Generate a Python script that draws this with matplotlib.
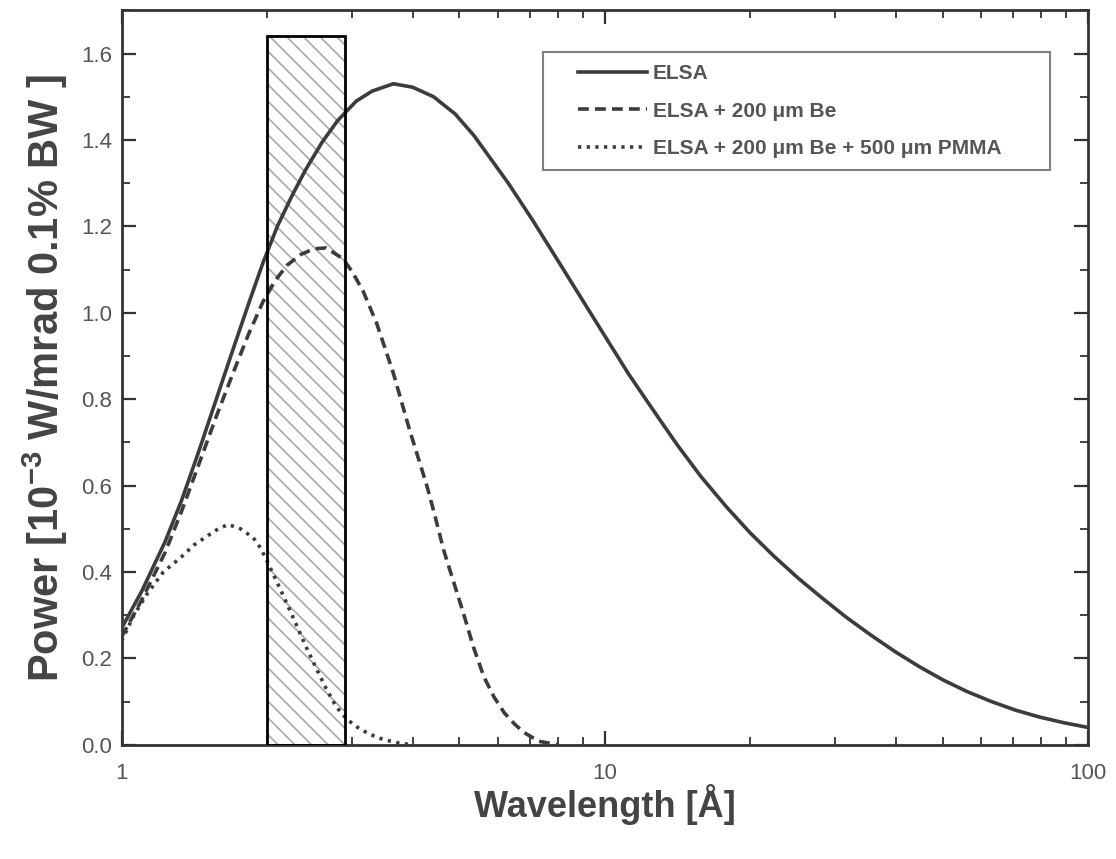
import matplotlib
matplotlib.use("Agg")
import matplotlib.pyplot as plt
from matplotlib.patches import Rectangle
from matplotlib.ticker import MultipleLocator, LogLocator, NullFormatter, FixedLocator, FixedFormatter

plt.rcParams["font.family"] = ["Liberation Sans", "DejaVu Sans"]
plt.rcParams["mathtext.fontset"] = "custom"
plt.rcParams["mathtext.rm"] = "Liberation Sans:bold"
plt.rcParams["mathtext.bf"] = "Liberation Sans:bold"
plt.rcParams["hatch.linewidth"] = 1.2

# ELSA spectrum
elsa_x = [1.0, 1.1, 1.23, 1.33, 1.44, 1.57, 1.7, 1.83, 1.96, 2.1, 2.25, 2.4, 2.6, 2.8,
          3.06, 3.3, 3.65, 4.0, 4.42, 4.9, 5.36, 6.31, 7.08, 7.94, 8.91, 10.0, 11.2,
          12.6, 14.1, 15.8, 17.8, 20.0, 22.4, 25.1, 28.2, 31.6, 35.5, 39.8, 44.7, 50.1,
          56.2, 63.1, 70.8, 79.4, 89.1, 100.0]
elsa_y = [0.27, 0.355, 0.47, 0.565, 0.675, 0.80, 0.915, 1.02, 1.115, 1.20, 1.27, 1.33,
          1.395, 1.445, 1.49, 1.513, 1.53, 1.522, 1.50, 1.46, 1.41, 1.30, 1.215, 1.126,
          1.036, 0.946, 0.858, 0.774, 0.695, 0.621, 0.552, 0.49, 0.436, 0.386, 0.339,
          0.295, 0.254, 0.216, 0.181, 0.15, 0.123, 0.10, 0.08, 0.064, 0.051, 0.04]

# ELSA + 200 um Be
be_x = [1.0, 1.1, 1.23, 1.33, 1.44, 1.57, 1.7, 1.83, 1.96, 2.08, 2.2, 2.35, 2.5, 2.65,
        2.87, 3.0, 3.16, 3.37, 3.65, 3.94, 4.28, 4.45, 4.64, 4.87, 5.11, 5.35, 5.62,
        5.9, 6.19, 6.5, 6.81, 7.3, 8.0]
be_y = [0.25, 0.335, 0.445, 0.54, 0.645, 0.76, 0.86, 0.95, 1.025, 1.075, 1.11, 1.135,
        1.148, 1.15, 1.125, 1.095, 1.05, 0.976, 0.86, 0.73, 0.60, 0.53, 0.45, 0.375,
        0.30, 0.225, 0.157, 0.11, 0.074, 0.048, 0.028, 0.008, 0.0]

# ELSA + 200 um Be + 500 um PMMA
pmma_x = [1.0, 1.06, 1.13, 1.22, 1.33, 1.41, 1.49, 1.57, 1.66, 1.76, 1.87, 1.94, 2.01,
          2.15, 2.29, 2.4, 2.52, 2.65, 2.78, 2.92, 3.06, 3.25, 3.48, 3.75, 4.0]
pmma_y = [0.24, 0.30, 0.35, 0.40, 0.435, 0.462, 0.48, 0.497, 0.51, 0.50, 0.48, 0.455,
          0.42, 0.35, 0.282, 0.23, 0.18, 0.13, 0.088, 0.06, 0.042, 0.025, 0.012, 0.004, 0.0]

band_lo, band_hi, band_top = 2.0, 2.9, 1.64

line_col = "#3c3c3c"
text_col = "#555555"

fig = plt.figure(figsize=(11.16, 8.59), dpi=100)
ax = fig.add_axes([0.109, 0.133, 0.866, 0.855])

ax.add_patch(Rectangle((band_lo, 0), band_hi - band_lo, band_top, facecolor="white",
                       edgecolor="#a8a8a8", hatch="\\\\", linewidth=0, zorder=1))
ax.add_patch(Rectangle((band_lo, 0), band_hi - band_lo, band_top, facecolor="none",
                       edgecolor="black", linewidth=2.0, zorder=4))

ax.plot(elsa_x, elsa_y, color=line_col, lw=2.6, label="ELSA", zorder=3)
ax.plot(be_x, be_y, color=line_col, lw=2.6, dashes=(3.0, 1.7),
        label="ELSA + 200 μm Be", zorder=3)
ax.plot(pmma_x, pmma_y, color=line_col, lw=2.6, dashes=(0.9, 1.5),
        label="ELSA + 200 μm Be + 500 μm PMMA", zorder=3)

ax.set_xscale("log")
ax.set_xlim(1, 100)
ax.set_ylim(0, 1.7)

ax.xaxis.set_major_locator(FixedLocator([1, 10, 100]))
ax.xaxis.set_major_formatter(FixedFormatter(["1", "10", "100"]))
ax.xaxis.set_minor_locator(LogLocator(base=10, subs=range(2, 10)))
ax.xaxis.set_minor_formatter(NullFormatter())
ax.yaxis.set_major_locator(MultipleLocator(0.2))
ax.yaxis.set_minor_locator(MultipleLocator(0.1))
ax.yaxis.set_major_formatter(plt.FuncFormatter(lambda v, p: f"{v:.1f}"))

ax.tick_params(which="both", direction="in", top=True, right=True,
               color="#333333", labelcolor=text_col, labelsize=16, pad=7)
ax.tick_params(axis="x", which="major", pad=13)
ax.tick_params(which="major", length=10, width=1.6)
ax.tick_params(which="minor", length=6, width=1.3)
for s in ax.spines.values():
    s.set_color("#333333")
    s.set_linewidth(2.0)

ax.set_xlabel("Wavelength [Å]", fontsize=26, fontweight="bold", color="#444444", labelpad=0)
ax.set_ylabel(r"Power [10$^{-3}$ W/mrad 0.1% BW ]", fontsize=30, fontweight="bold",
              color="#444444", labelpad=8)

# legend box drawn separately so its size matches the original
ax.add_patch(Rectangle((0.436, 0.782), 0.525, 0.161, transform=ax.transAxes,
                       facecolor="white", edgecolor="#808080", linewidth=1.5, zorder=5))
leg = ax.legend(loc="upper left", bbox_to_anchor=(0.472, 0.927), frameon=False,
                prop={"weight": "bold", "size": 15}, handlelength=3.3, handletextpad=0.3,
                labelspacing=0.9, borderpad=0, borderaxespad=0)
leg.set_zorder(6)
for t in leg.get_texts():
    t.set_color("#555555")

fig.savefig("out.png", dpi=100)
